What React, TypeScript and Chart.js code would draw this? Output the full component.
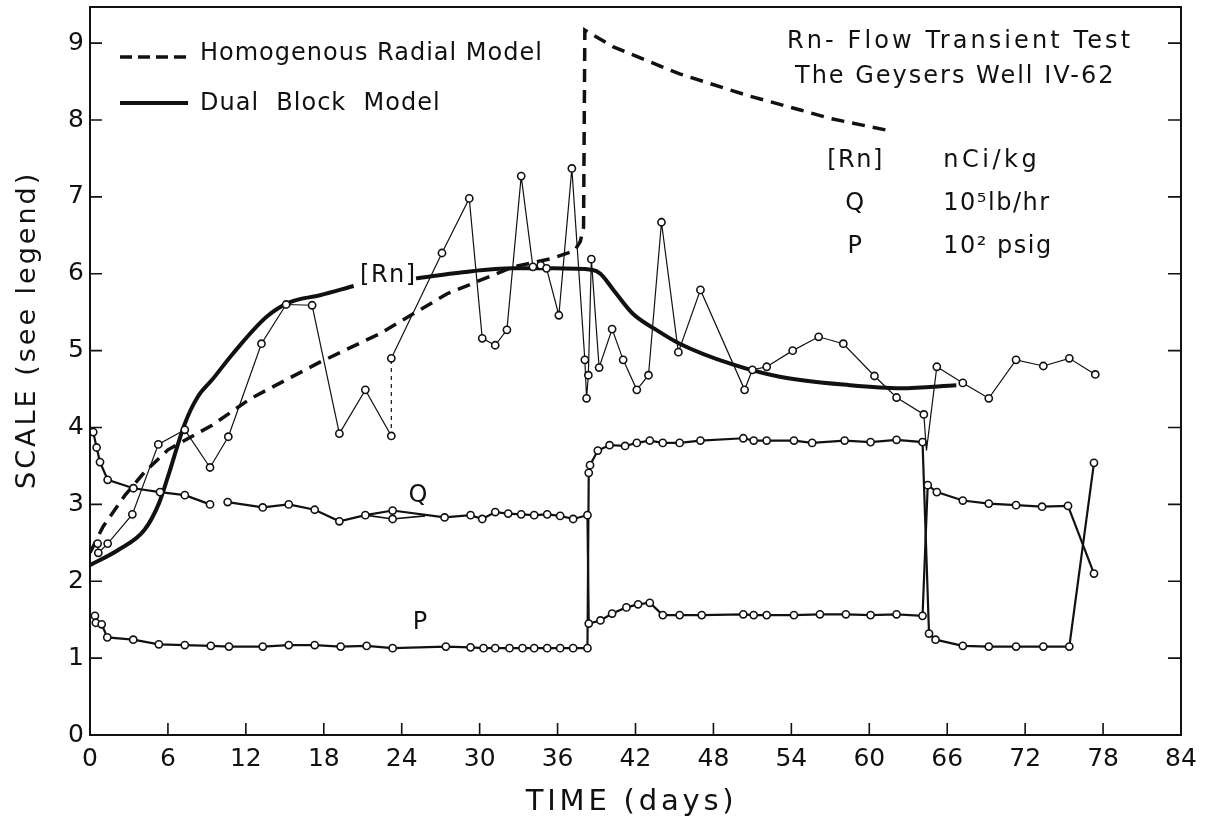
import React, { useEffect, useRef } from "react";
import { Chart, registerables } from "chart.js";

Chart.register(...registerables);

const FONT = '"DejaVu Sans", sans-serif';
const INK = "#111111";

// Axis ranges and ticks
const xTickValues = [0, 6, 12, 18, 24, 30, 36, 42, 48, 54, 60, 66, 72, 78, 84];
const yTickValues = [0, 1, 2, 3, 4, 5, 6, 7, 8, 9];
const X_MAX = 84;
const Y_MAX = 9.47;

// [Rn] measured (nCi/kg)
const rnX = [0.59, 0.64, 1.36, 3.26, 5.26, 7.3, 9.24, 10.65, 13.2, 15.1, 17.1, 19.2, 21.2, 23.2, 23.2, 27.1, 29.2, 30.2, 31.2, 32.1, 33.2, 34.1, 34.7, 35.15, 36.1, 37.1, 38.1, 38.23, 38.37, 38.6, 39.2, 40.2, 41.05, 42.1, 43.0, 44.0, 45.3, 47.0, 50.4, 51.0, 52.1, 54.1, 56.1, 58.0, 60.4, 62.1, 64.2, 64.4, 65.2, 67.2, 69.2, 71.3, 73.4, 75.4, 77.4];
const rnY = [2.49, 2.37, 2.49, 2.87, 3.78, 3.97, 3.48, 3.88, 5.09, 5.6, 5.59, 3.92, 4.49, 3.89, 4.9, 6.27, 6.98, 5.16, 5.07, 5.27, 7.27, 6.09, 6.11, 6.07, 5.46, 7.37, 4.88, 4.38, 4.68, 6.19, 4.78, 5.28, 4.88, 4.49, 4.68, 6.67, 4.98, 5.79, 4.49, 4.75, 4.79, 5.0, 5.18, 5.09, 4.67, 4.39, 4.17, 3.7, 4.79, 4.58, 4.38, 4.88, 4.8, 4.9, 4.69];
const rnDashedFrom = 13;
const rnHidden = 47;

// Q flow (10^5 lb/hr)
const qX = [0.25, 0.51, 0.77, 1.36, 3.34, 5.39, 7.3, 9.24, 9.9, 10.6, 13.3, 15.3, 17.3, 19.2, 21.2, 23.3, 27.3, 29.3, 30.2, 31.2, 32.2, 33.2, 34.2, 35.2, 36.2, 37.2, 38.3, 38.4, 39.3, 40.2, 41.3, 42.2, 43.1, 44.1, 45.4, 47.1, 50.3, 51.1, 52.1, 54.2, 56.2, 58.2, 60.1, 62.1, 64.1, 64.5, 65.2, 67.2, 69.2, 71.3, 73.3, 75.3, 77.3];
const qY = [3.94, 3.74, 3.55, 3.32, 3.21, 3.16, 3.12, 3.0, null, 3.03, 2.96, 3.0, 2.93, 2.78, 2.86, 2.92, 2.83, 2.86, 2.81, 2.9, 2.88, 2.87, 2.86, 2.87, 2.85, 2.81, 2.86, 1.45, 1.49, 1.58, 1.66, 1.7, 1.72, 1.56, 1.56, 1.56, 1.57, 1.56, 1.56, 1.56, 1.57, 1.57, 1.56, 1.57, 1.55, 3.25, 3.16, 3.05, 3.01, 2.99, 2.97, 2.98, 2.1];
const q2X = [21.2, 23.3, 25.8];
const q2Y = [2.86, 2.81, 2.85];

// P pressure (10^2 psig)
const pX = [0.38, 0.45, 0.9, 1.33, 3.33, 5.3, 7.3, 9.3, 10.7, 13.3, 15.3, 17.3, 19.3, 21.3, 23.3, 27.4, 29.3, 30.3, 31.2, 32.3, 33.3, 34.2, 35.2, 36.2, 37.2, 38.3, 38.4, 38.5, 39.1, 40.0, 41.2, 42.1, 43.1, 44.1, 45.4, 47.0, 50.3, 51.1, 52.1, 54.2, 55.6, 58.1, 60.1, 62.1, 64.1, 64.6, 65.1, 67.2, 69.2, 71.3, 73.4, 75.4, 77.3];
const pY = [1.55, 1.46, 1.44, 1.27, 1.24, 1.18, 1.17, 1.16, 1.15, 1.15, 1.17, 1.17, 1.15, 1.16, 1.13, 1.15, 1.14, 1.13, 1.13, 1.13, 1.13, 1.13, 1.13, 1.13, 1.13, 1.13, 3.41, 3.51, 3.7, 3.77, 3.76, 3.8, 3.83, 3.8, 3.8, 3.83, 3.86, 3.83, 3.83, 3.83, 3.8, 3.83, 3.81, 3.84, 3.81, 1.32, 1.24, 1.16, 1.15, 1.15, 1.15, 1.15, 3.54];

// Dual block model
const dualX = [0, 2.2, 4.2, 5.3, 6.0, 7.3, 8.3, 9.4, 11.0, 13.6, 15.4, 17.7, 20.3, 22.7, 25.1, 28.7, 32.6, 35.7, 38.7, 39.3, 40.3, 41.8, 43.6, 45.4, 49.3, 53.1, 58.5, 62.4, 66.7];
const dualY = [2.21, 2.41, 2.67, 3.01, 3.36, 4.05, 4.4, 4.62, 4.96, 5.44, 5.63, 5.72, 5.84, null, 5.94, 6.02, 6.07, 6.07, 6.05, 6.0, 5.79, 5.48, 5.27, 5.09, 4.83, 4.66, 4.55, 4.51, 4.55];

// Homogenous radial model
const homX = [0, 1.0, 2.7, 4.2, 6.0, 7.8, 9.4, 12.4, 17.7, 22.3, 27.5, 32.6, 35.6, 37.3, 37.75, 38.0, 38.1, 40.3, 45.4, 50.6, 54.7, 57.0, 61.3];
const homY = [2.37, 2.71, 3.12, 3.42, 3.71, 3.88, 4.03, 4.38, 4.85, 5.22, 5.74, 6.09, 6.2, 6.3, 6.42, 6.6, 9.17, 8.95, 8.6, 8.32, 8.13, 8.02, 7.87];

// Texts
const legendLabels = ["Homogenous Radial Model", "Dual  Block  Model"];
const titleLines = ["Rn- Flow Transient Test", "The Geysers Well IV-62"];
const unitSymbols = ["[Rn]", "Q", "P"];
const unitNames = ["nCi/kg", "10⁵lb/hr", "10² psig"];
const curveLabels = ["[Rn]", "Q", "P"];
const xTitle = "TIME (days)";
const yTitle = "SCALE (see legend)";

const pts = (xs: number[], ys: (number | null)[]) => xs.map((x, i) => ({ x, y: ys[i] }));

const noPad = (s: any) => {
  s.paddingTop = 0;
  s.paddingBottom = 0;
  s.paddingLeft = 0;
  s.paddingRight = 0;
};

const decor = {
  id: "decor",
  afterDraw(chart: any) {
    const { ctx, chartArea: a, scales } = chart;
    const xs = scales.x;
    const ys = scales.y;
    const X = (v: number) => xs.getPixelForValue(v);
    const Y = (v: number) => ys.getPixelForValue(v);
    ctx.save();
    ctx.strokeStyle = INK;
    ctx.fillStyle = INK;
    ctx.lineCap = "butt";
    // frame
    ctx.lineWidth = 2;
    ctx.strokeRect(a.left, a.top, a.right - a.left, a.bottom - a.top);
    // inward ticks
    ctx.lineWidth = 1.6;
    ctx.beginPath();
    yTickValues.forEach((v) => {
      if (v === 0) return;
      const py = Y(v);
      ctx.moveTo(a.left, py);
      ctx.lineTo(a.left + 12, py);
      ctx.moveTo(a.right - 13, py);
      ctx.lineTo(a.right, py);
    });
    xTickValues.forEach((v) => {
      if (v === 0 || v === X_MAX) return;
      const px = X(v);
      ctx.moveTo(px, a.bottom);
      ctx.lineTo(px, a.bottom - 12);
    });
    ctx.stroke();

    const text = (s: string, px: number, py: number, size: number, align: string, ls: number) => {
      ctx.font = `${size}px ${FONT}`;
      ctx.letterSpacing = `${ls}px`;
      ctx.textAlign = align;
      ctx.textBaseline = "middle";
      ctx.fillText(s, px, py);
    };

    // legend
    ctx.lineWidth = 3.5;
    ctx.setLineDash([12, 6]);
    ctx.beginPath();
    ctx.moveTo(X(2.31), Y(8.82));
    ctx.lineTo(X(7.7), Y(8.82));
    ctx.stroke();
    ctx.setLineDash([]);
    ctx.lineWidth = 4;
    ctx.beginPath();
    ctx.moveTo(X(2.31), Y(8.22));
    ctx.lineTo(X(7.55), Y(8.22));
    ctx.stroke();
    text(legendLabels[0], X(8.47), Y(8.86), 24, "left", 1);
    text(legendLabels[1], X(8.47), Y(8.21), 24, "left", 1);

    // title block
    text(titleLines[0], X(53.66), Y(9.02), 24, "left", 3.1);
    text(titleLines[1], X(54.28), Y(8.56), 24, "left", 2);
    const symY = [7.47, 6.905, 6.35];
    unitSymbols.forEach((s, i) => text(s, X(58.94), Y(symY[i]), 24, "center", 1.5));
    unitNames.forEach((s, i) => text(s, X(65.7), Y(symY[i]), 24, "left", i === 0 ? 3.5 : 1.5));

    // curve labels
    text(curveLabels[0], X(20.79), Y(5.97), 24, "left", 1.5);
    text(curveLabels[1], X(25.25), Y(3.11), 24, "center", 0);
    text(curveLabels[2], X(25.4), Y(1.456), 24, "center", 0);

    // axis titles
    text(xTitle, X(41.7), a.bottom + 67, 29, "center", 3.8);
    ctx.save();
    ctx.translate(a.left - 62, Y(5.27));
    ctx.rotate(-Math.PI / 2);
    text(yTitle, 0, 0, 27, "center", 3);
    ctx.restore();
    ctx.restore();
  },
};

export default function App() {
  const ref = useRef<HTMLCanvasElement | null>(null);
  useEffect(() => {
    document.body.style.margin = "0";
    document.body.style.background = "#ffffff";
    const canvas = ref.current;
    if (!canvas) return;
    const dataStyle = {
      showLine: true,
      borderColor: INK,
      pointBackgroundColor: "#ffffff",
      pointBorderColor: INK,
      pointBorderWidth: 1.6,
      pointRadius: 3.6,
      pointHoverRadius: 3.6,
      tension: 0,
      order: 0,
    };
    const chart = new Chart(canvas, {
      type: "scatter",
      data: {
        datasets: [
          {
            ...dataStyle,
            label: "[Rn]",
            data: pts(rnX, rnY),
            borderWidth: 1.2,
            pointRadius: rnX.map((_, i) => (i === rnHidden ? 0 : 3.6)),
            segment: {
              borderDash: (c: any) => (c.p0DataIndex === rnDashedFrom ? [4, 4] : undefined),
            },
          },
          { ...dataStyle, label: "Q", data: pts(qX, qY), borderWidth: 2.2, spanGaps: false },
          {
            ...dataStyle,
            label: "Q2",
            data: pts(q2X, q2Y),
            borderWidth: 1.6,
            pointRadius: q2X.map((_, i) => (i === 1 ? 3.6 : 0)),
          },
          { ...dataStyle, label: "P", data: pts(pX, pY), borderWidth: 2.2 },
          {
            label: "Dual Block Model",
            data: pts(dualX, dualY),
            showLine: true,
            borderColor: INK,
            borderWidth: 4,
            pointRadius: 0,
            cubicInterpolationMode: "monotone",
            spanGaps: false,
            order: 1,
          },
          {
            label: "Homogenous Radial Model",
            data: pts(homX, homY),
            showLine: true,
            borderColor: INK,
            borderWidth: 3.5,
            borderDash: [13, 8],
            pointRadius: 0,
            tension: 0,
            order: 1,
          },
        ],
      } as any,
      options: {
        responsive: false,
        animation: false,
        devicePixelRatio: 1,
        events: [],
        layout: { padding: { top: 7, right: 30, left: 0, bottom: 0 } },
        plugins: { legend: { display: false }, tooltip: { enabled: false } },
        scales: {
          x: {
            type: "linear",
            min: 0,
            max: X_MAX,
            afterFit: (s: any) => {
              s.height = 87;
              noPad(s);
            },
            grid: { display: false, drawTicks: false },
            border: { display: false },
            ticks: {
              stepSize: 6,
              autoSkip: false,
              maxRotation: 0,
              padding: 9,
              color: INK,
              font: { family: FONT, size: 25 },
            },
          },
          y: {
            type: "linear",
            min: 0,
            max: Y_MAX,
            afterFit: (s: any) => {
              s.width = 90;
              noPad(s);
            },
            grid: { display: false, drawTicks: false },
            border: { display: false },
            ticks: {
              stepSize: 1,
              includeBounds: false,
              padding: 6,
              color: INK,
              font: { family: FONT, size: 25 },
            },
          },
        },
      } as any,
      plugins: [decor],
    });
    return () => chart.destroy();
  }, []);
  return (
    <div style={{ position: "fixed", left: 0, top: 0, width: 1211, height: 822, background: "#fff" }}>
      <canvas ref={ref} width={1211} height={822} style={{ display: "block" }} />
    </div>
  );
}
